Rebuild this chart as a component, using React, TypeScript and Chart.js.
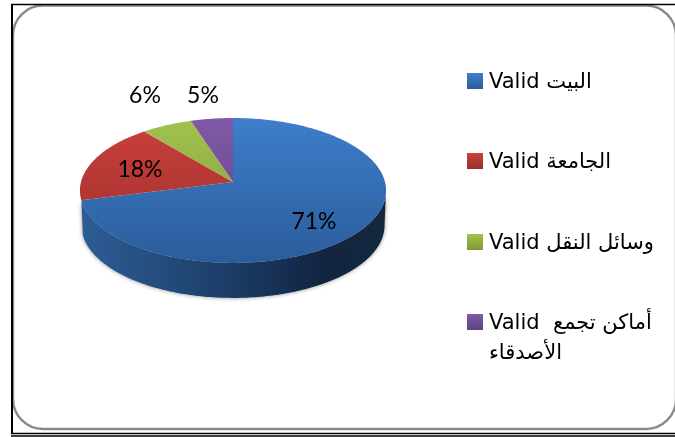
import React, { useEffect, useRef } from "react";
import { Chart, registerables } from "chart.js";

Chart.register(...registerables);

const categories = ["البيت", "الجامعة", "وسائل النقل", "أماكن تجمع الأصدقاء"];
const shares = [71, 18, 6, 5];
const legendLines = [
  ["Valid البيت"],
  ["Valid الجامعة"],
  ["Valid وسائل النقل"],
  ["Valid  أماكن تجمع", "الأصدقاء"],
];
const topColors = ["#3e7ecb", "#cc403c", "#a2c24e", "#8059a8"];
const bottomColors = ["#2a5c9a", "#982f2b", "#7e9a38", "#5e437f"];
const labelCenters = [
  [314, 222],
  [140, 170],
  [145, 96],
  [203, 96],
];
const legendRows = [73, 153, 234, 314];

const PERSPECTIVE = 0.117;
const SQUASH = 0.47;
const DEPTH = 35;
const STEP = Math.PI / 180;

const project = (el: any, angle: number, depth = 0, shrink = 1) => {
  const u = Math.cos(angle);
  const v = Math.sin(angle);
  const w = 1 - PERSPECTIVE * v;
  return [
    el.x + (el.outerRadius * shrink * u) / w,
    el.y + depth + (el.outerRadius * SQUASH * v) / w,
  ];
};

const tracePie3d = {
  id: "pie3d",
  beforeDraw(chart: any) {
    const { ctx } = chart;
    ctx.save();
    ctx.fillStyle = "#ffffff";
    ctx.fillRect(0, 0, 675, 437);
    ctx.strokeStyle = "#8a8a8a";
    ctx.lineWidth = 2.4;
    ctx.beginPath();
    ctx.roundRect(13, 5.5, 663, 423.5, 30);
    ctx.stroke();
    ctx.strokeStyle = "#000000";
    ctx.lineWidth = 1.6;
    ctx.beginPath();
    ctx.moveTo(11, 4.5);
    ctx.lineTo(675, 4.5);
    ctx.moveTo(675, 433.5);
    ctx.lineTo(11, 433.5);
    ctx.moveTo(11, 436);
    ctx.lineTo(675, 436);
    ctx.stroke();
    ctx.lineWidth = 2;
    ctx.beginPath();
    ctx.moveTo(12, 4);
    ctx.lineTo(12, 434);
    ctx.stroke();
    ctx.restore();
  },
  beforeDatasetsDraw(chart: any) {
    const { ctx } = chart;
    const arcs = chart.getDatasetMeta(0).data;
    const front0 = Math.asin(PERSPECTIVE);
    const front1 = Math.PI - front0;

    arcs.forEach((el: any) => {
      const start = Math.max(el.startAngle, front0);
      const end = Math.min(el.endAngle, front1);
      if (end - start < 0.2) return;
      const wall = ctx.createLinearGradient(el.x - el.outerRadius, 0, el.x + el.outerRadius, 0);
      wall.addColorStop(0, "#2d5c96");
      wall.addColorStop(0.3, "#234a7a");
      wall.addColorStop(0.6, "#18345a");
      wall.addColorStop(0.8, "#12243f");
      wall.addColorStop(1, "#14283f");
      ctx.save();
      ctx.shadowColor = "rgba(0,0,0,0.45)";
      ctx.shadowBlur = 4;
      ctx.fillStyle = wall;
      ctx.beginPath();
      for (let a = start; a < end; a += STEP) {
        const [x, y] = project(el, a);
        ctx.lineTo(x, y);
      }
      const [ex, ey] = project(el, end);
      ctx.lineTo(ex, ey);
      for (let a = end; a > start; a -= STEP) {
        const [x, y] = project(el, a, DEPTH, 0.99);
        ctx.lineTo(x, y);
      }
      const [sx, sy] = project(el, start, DEPTH, 0.99);
      ctx.lineTo(sx, sy);
      ctx.closePath();
      ctx.fill();
      ctx.restore();
    });

    arcs.forEach((el: any, i: number) => {
      const grad = ctx.createLinearGradient(0, 117, 0, 264);
      grad.addColorStop(0, topColors[i]);
      grad.addColorStop(1, bottomColors[i]);
      ctx.fillStyle = grad;
      ctx.beginPath();
      ctx.moveTo(el.x, el.y);
      for (let a = el.startAngle; a < el.endAngle; a += STEP) {
        const [x, y] = project(el, a);
        ctx.lineTo(x, y);
      }
      const [ex, ey] = project(el, el.endAngle);
      ctx.lineTo(ex, ey);
      ctx.closePath();
      ctx.fill();
    });
    return false;
  },
  afterDraw(chart: any) {
    const { ctx } = chart;
    ctx.save();
    ctx.fillStyle = "#000000";
    ctx.textBaseline = "middle";
    ctx.textAlign = "center";
    ctx.font = '23px Lato, "Open Sans", sans-serif';
    shares.forEach((s, i) => {
      ctx.fillText(`${s}%`, labelCenters[i][0], labelCenters[i][1]);
    });

    ctx.textAlign = "left";
    ctx.textBaseline = "alphabetic";
    ctx.font = '21px "DejaVu Sans", sans-serif';
    legendLines.forEach((lines, i) => {
      const top = legendRows[i];
      const grad = ctx.createLinearGradient(0, top, 0, top + 16);
      grad.addColorStop(0, topColors[i]);
      grad.addColorStop(1, bottomColors[i]);
      ctx.fillStyle = grad;
      ctx.fillRect(467, top, 16, 16);
      ctx.fillStyle = "#000000";
      lines.forEach((line, j) => {
        ctx.fillText(line, 489, top + 15 + j * 30);
      });
    });
    ctx.restore();
  },
};

export default function App() {
  const ref = useRef<HTMLCanvasElement | null>(null);
  useEffect(() => {
    const chart = new Chart(ref.current as HTMLCanvasElement, {
      type: "pie",
      data: {
        labels: categories,
        datasets: [{ data: shares, backgroundColor: topColors, borderWidth: 0 }],
      },
      options: {
        animation: false,
        responsive: false,
        layout: { padding: { left: 81, right: 290, top: 30, bottom: 103 } },
        plugins: { legend: { display: false }, tooltip: { enabled: false } },
      },
      plugins: [tracePie3d],
    });
    return () => chart.destroy();
  }, []);
  return (
    <div style={{ position: "fixed", left: 0, top: 0, width: 675, height: 437 }}>
      <canvas ref={ref} width={675} height={437} style={{ display: "block" }} />
    </div>
  );
}
